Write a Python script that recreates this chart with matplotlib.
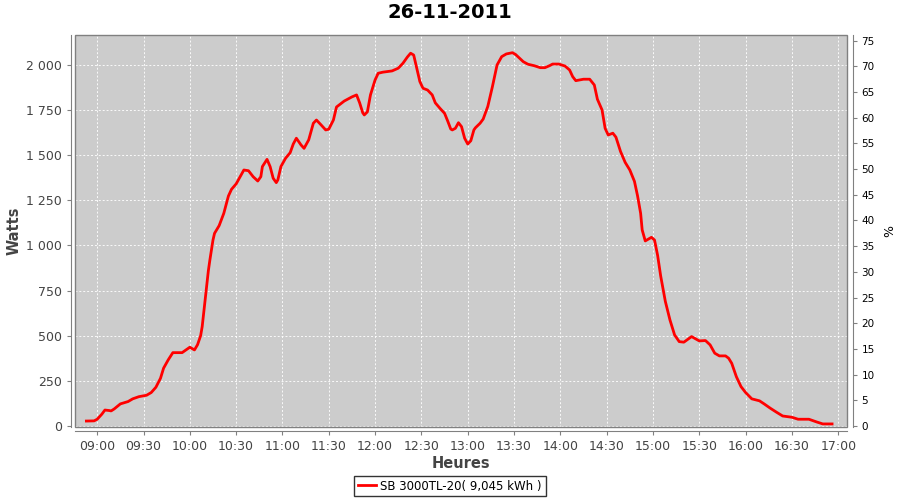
import pandas as pd
import matplotlib
matplotlib.use('Agg')
import matplotlib.pyplot as plt
import matplotlib.dates as mdates
from matplotlib.ticker import FuncFormatter, MultipleLocator
from matplotlib.patches import Rectangle

plt.rcParams['font.family'] = 'DejaVu Sans'

# --- data ---
day = '2011-11-26'
times = ['08:53', '08:58', '09:00', '09:03', '09:05', '09:08', '09:09', '09:11', '09:15', '09:20',
         '09:23', '09:27', '09:32', '09:35', '09:38', '09:41', '09:43', '09:46', '09:49', '09:55',
         '10:00', '10:03', '10:05', '10:07', '10:08', '10:10', '10:12', '10:13', '10:15', '10:16',
         '10:19', '10:22', '10:25', '10:27', '10:30', '10:32', '10:35', '10:38', '10:41', '10:44',
         '10:46', '10:47', '10:50', '10:52', '10:54', '10:56', '10:57', '10:59', '11:02', '11:05',
         '11:07', '11:09', '11:12', '11:14', '11:17', '11:20', '11:22', '11:25', '11:28', '11:30',
         '11:33', '11:35', '11:40', '11:45', '11:48', '11:50', '11:52', '11:53', '11:55', '11:57',
         '12:00', '12:02', '12:05', '12:11', '12:15', '12:18', '12:21', '12:23', '12:25', '12:27',
         '12:29', '12:31', '12:34', '12:37', '12:39', '12:42', '12:45', '12:47', '12:49', '12:50',
         '12:52', '12:54', '12:56', '12:58', '13:00', '13:02', '13:04', '13:05', '13:08', '13:10',
         '13:13', '13:16', '13:19', '13:22', '13:25', '13:29', '13:31', '13:36', '13:39', '13:43',
         '13:47', '13:50', '13:53', '13:55', '13:59', '14:03', '14:06', '14:08', '14:10', '14:15',
         '14:19', '14:22', '14:24', '14:27', '14:29', '14:31', '14:34', '14:36', '14:39', '14:42',
         '14:45', '14:48', '14:50', '14:52', '14:53', '14:55', '14:59', '15:01', '15:03', '15:05',
         '15:08', '15:11', '15:14', '15:17', '15:20', '15:25', '15:30', '15:34', '15:37', '15:40',
         '15:43', '15:47', '15:49', '15:51', '15:54', '15:57', '16:00', '16:04', '16:09', '16:12',
         '16:16', '16:20', '16:24', '16:30', '16:34', '16:41', '16:46', '16:50', '16:56']
watts = [27, 28, 37, 65, 88, 85, 83, 94, 122, 135,
         150, 162, 170, 185, 214, 264, 320, 366, 406, 406,
         436, 421, 450, 500, 550, 707, 860, 920, 1030, 1067,
         1110, 1178, 1274, 1311, 1341, 1372, 1418, 1414, 1381, 1357,
         1381, 1437, 1477, 1437, 1372, 1348, 1363, 1437, 1483, 1514,
         1562, 1594, 1557, 1538, 1585, 1677, 1695, 1668, 1640, 1644,
         1695, 1767, 1800, 1823, 1834, 1790, 1735, 1723, 1740, 1834,
         1917, 1954, 1960, 1967, 1982, 2009, 2045, 2065, 2055, 1982,
         1908, 1871, 1861, 1834, 1790, 1760, 1732, 1690, 1645, 1640,
         1649, 1680, 1658, 1594, 1562, 1580, 1640, 1652, 1677, 1700,
         1770, 1880, 2000, 2046, 2061, 2068, 2058, 2018, 2004, 1996,
         1985, 1985, 1996, 2005, 2005, 1994, 1972, 1935, 1913, 1921,
         1921, 1889, 1810, 1751, 1649, 1612, 1622, 1600, 1520, 1460,
         1418, 1355, 1275, 1178, 1086, 1025, 1045, 1030, 945, 830,
         690, 587, 504, 467, 464, 495, 471, 473, 449, 403,
         388, 388, 375, 347, 273, 218, 185, 150, 139, 122,
         98, 76, 55, 48, 37, 37, 22, 11, 11]
series_label = 'SB 3000TL-20( 9,045 kWh )'
title = '26-11-2011'

t = pd.to_datetime([day + ' ' + s for s in times])

fig = plt.figure(figsize=(9, 5), dpi=100)
ax = fig.add_axes([0.0833, 0.146, 0.8578, 0.784])
ax.set_facecolor('#cccccc')

ax.plot(t, watts, color='#ff0000', lw=2, label=series_label)

ax.set_xlim(pd.Timestamp(day + ' 08:45:36'), pd.Timestamp(day + ' 17:05:40'))
ax.set_ylim(-6, 2166)
ax.xaxis.set_major_locator(mdates.MinuteLocator(byminute=[0, 30]))
ax.xaxis.set_major_formatter(mdates.DateFormatter('%H:%M'))
ax.yaxis.set_major_locator(MultipleLocator(250))
ax.yaxis.set_major_formatter(FuncFormatter(lambda v, p: f'{v:,.0f}'.replace(',', ' ')))

ax.grid(True, color='white', lw=0.7, ls=(0, (2, 2)), alpha=0.9)
ax.set_axisbelow(True)

for s in ['top', 'right']:
    ax.spines[s].set_visible(False)
for s in ['left', 'bottom']:
    ax.spines[s].set_position(('outward', 3))
    ax.spines[s].set_color('#808080')
ax.add_patch(Rectangle((0, 0), 1, 1, transform=ax.transAxes, fill=False,
                       ec='#808080', lw=1, clip_on=False, zorder=5))

ax.tick_params(colors='#808080', labelcolor='#444444', labelsize=9, length=3)
ax.set_xlabel('Heures', fontsize=10.5, color='#444444', fontweight='bold', labelpad=2)
ax.set_ylabel('Watts', fontsize=10.5, color='#444444', fontweight='bold', labelpad=3)

# right-hand percent axis
ax2 = ax.twinx()
ax2.set_ylim(-0.2, 76.1)
ax2.yaxis.set_major_locator(MultipleLocator(5))
for s in ['top', 'left', 'bottom']:
    ax2.spines[s].set_visible(False)
ax2.spines['right'].set_position(('outward', 4))
ax2.spines['right'].set_color('#808080')
ax2.tick_params(colors='#808080', labelcolor='black', labelsize=7.5, length=3)
ax2.set_ylabel('%', fontsize=9, labelpad=6)

fig.suptitle(title, fontsize=14, fontweight='bold', y=0.995)

leg = fig.legend(loc='lower center', bbox_to_anchor=(0.5, -0.004), fontsize=8.5,
                 frameon=True, fancybox=False, handlelength=1.5, borderpad=0.3,
                 handletextpad=0.4)
leg.get_frame().set_edgecolor('black')
leg.get_frame().set_linewidth(1)

fig.savefig('out.png', dpi=100)
